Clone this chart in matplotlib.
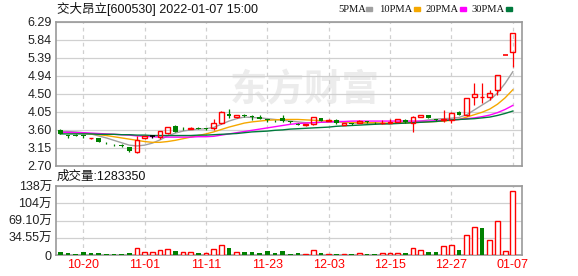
import numpy as np
import matplotlib.pyplot as plt
from matplotlib.patches import Rectangle

plt.rcParams['font.family'] = ['Liberation Sans', 'Noto Sans CJK SC', 'DejaVu Sans']

# trading days shown on the chart
dates = ['10-15', '10-18', '10-19', '10-20', '10-21', '10-22', '10-25', '10-26', '10-27', '10-28',
         '10-29', '11-01', '11-02', '11-03', '11-04', '11-05', '11-08', '11-09', '11-10', '11-11',
         '11-12', '11-15', '11-16', '11-17', '11-18', '11-19', '11-22', '11-23', '11-24', '11-25',
         '11-26', '11-29', '11-30', '12-01', '12-02', '12-03', '12-06', '12-07', '12-08', '12-09',
         '12-10', '12-13', '12-14', '12-15', '12-16', '12-17', '12-20', '12-21', '12-22', '12-23',
         '12-24', '12-27', '12-28', '12-29', '12-30', '12-31', '01-04', '01-05', '01-06', '01-07']

opens = [3.60, 3.47, 3.47, 3.47, 3.39, 3.39, 3.28, 3.23, 3.22, 3.17,
         3.04, 3.41, 3.44, 3.43, 3.52, 3.70, 3.65, 3.63, 3.65, 3.64,
         3.64, 3.77, 4.00, 3.93, 3.96, 3.94, 3.93, 3.86, 3.83, 3.90,
         3.81, 3.74, 3.71, 3.75, 3.89, 3.83, 3.85, 3.73, 3.76, 3.77,
         3.81, 3.78, 3.76, 3.78, 3.80, 3.84, 3.76, 3.93, 3.97, 3.86,
         3.84, 3.85, 4.05, 3.96, 4.42, 4.41, 4.42, 4.59, 5.47, 5.54]
highs = [3.62, 3.48, 3.50, 3.48, 3.41, 3.40, 3.29, 3.24, 3.24, 3.18,
         3.45, 3.46, 3.48, 3.58, 3.68, 3.71, 3.68, 3.67, 3.66, 3.65,
         3.88, 4.07, 4.12, 3.98, 4.00, 3.96, 3.96, 3.88, 3.85, 3.97,
         3.82, 3.76, 3.75, 3.93, 3.90, 3.88, 3.86, 3.78, 3.77, 3.84,
         3.82, 3.79, 3.85, 3.88, 3.88, 3.86, 3.94, 3.98, 3.98, 3.88,
         4.10, 4.04, 4.08, 4.40, 4.77, 4.77, 4.60, 4.97, 5.47, 6.01]
lows = [3.49, 3.40, 3.44, 3.40, 3.37, 3.29, 3.24, 3.20, 3.17, 3.06,
        3.02, 3.38, 3.41, 3.38, 3.50, 3.54, 3.60, 3.62, 3.61, 3.60,
        3.60, 3.75, 3.90, 3.90, 3.92, 3.85, 3.86, 3.80, 3.80, 3.80,
        3.78, 3.71, 3.70, 3.73, 3.82, 3.82, 3.75, 3.71, 3.73, 3.76,
        3.78, 3.75, 3.75, 3.77, 3.79, 3.78, 3.55, 3.91, 3.89, 3.82,
        3.80, 3.78, 3.96, 3.94, 4.22, 4.27, 4.35, 4.47, 5.47, 5.17]
closes = [3.50, 3.46, 3.45, 3.44, 3.40, 3.30, 3.27, 3.22, 3.19, 3.07,
          3.35, 3.44, 3.44, 3.57, 3.67, 3.56, 3.64, 3.65, 3.62, 3.62,
          3.77, 4.04, 3.95, 3.97, 3.94, 3.92, 3.87, 3.85, 3.82, 3.81,
          3.79, 3.72, 3.74, 3.92, 3.83, 3.85, 3.76, 3.77, 3.75, 3.81,
          3.79, 3.76, 3.78, 3.80, 3.86, 3.79, 3.92, 3.97, 3.90, 3.84,
          3.86, 4.02, 3.98, 4.39, 4.50, 4.43, 4.52, 4.97, 5.47, 6.01]

# volume in shares
volumes = [68000, 41000, 20000, 61000, 41000, 41000, 20000, 20000, 20000, 41000,
           135000, 68000, 54000, 95000, 115000, 81000, 54000, 54000, 41000, 41000,
           115000, 203000, 135000, 54000, 61000, 61000, 41000, 81000, 41000, 74000,
           20000, 41000, 20000, 95000, 41000, 20000, 20000, 20000, 20000, 41000,
           20000, 20000, 41000, 41000, 41000, 41000, 142000, 95000, 61000, 61000,
           176000, 196000, 102000, 400000, 560000, 550000, 300000, 690000, 74000, 1283350]

ma5 = [3.56, 3.56, 3.55, 3.53, 3.50, 3.45, 3.40, 3.34, 3.28, 3.22,
       3.20, 3.22, 3.27, 3.35, 3.45, 3.52, 3.57, 3.60, 3.62, 3.63,
       3.66, 3.74, 3.82, 3.88, 3.92, 3.91, 3.90, 3.88, 3.86, 3.84,
       3.82, 3.80, 3.78, 3.78, 3.79, 3.79, 3.80, 3.79, 3.77, 3.77,
       3.76, 3.76, 3.75, 3.76, 3.77, 3.78, 3.79, 3.82, 3.85, 3.87,
       3.88, 3.89, 3.91, 3.98, 4.10, 4.22, 4.34, 4.52, 4.76, 5.05]
ma10 = [3.53, 3.53, 3.52, 3.51, 3.50, 3.48, 3.46, 3.43, 3.40, 3.37,
        3.34, 3.31, 3.29, 3.29, 3.31, 3.34, 3.38, 3.42, 3.46, 3.50,
        3.55, 3.61, 3.67, 3.72, 3.77, 3.80, 3.82, 3.84, 3.85, 3.86,
        3.86, 3.86, 3.85, 3.84, 3.83, 3.82, 3.81, 3.80, 3.79, 3.78,
        3.78, 3.78, 3.77, 3.77, 3.77, 3.77, 3.78, 3.79, 3.80, 3.81,
        3.82, 3.84, 3.86, 3.92, 3.98, 4.04, 4.12, 4.24, 4.40, 4.60]
ma20 = [3.54, 3.54, 3.53, 3.53, 3.52, 3.51, 3.50, 3.49, 3.48, 3.47,
        3.45, 3.44, 3.43, 3.42, 3.42, 3.42, 3.42, 3.42, 3.43, 3.43,
        3.44, 3.47, 3.50, 3.53, 3.56, 3.59, 3.62, 3.65, 3.68, 3.71,
        3.74, 3.76, 3.77, 3.78, 3.79, 3.80, 3.81, 3.81, 3.82, 3.82,
        3.82, 3.82, 3.82, 3.82, 3.82, 3.82, 3.82, 3.82, 3.82, 3.83,
        3.84, 3.85, 3.86, 3.88, 3.90, 3.93, 3.97, 4.03, 4.11, 4.21]
ma30 = [3.50, 3.50, 3.50, 3.50, 3.50, 3.49, 3.49, 3.49, 3.48, 3.48,
        3.47, 3.47, 3.46, 3.46, 3.46, 3.46, 3.46, 3.46, 3.47, 3.47,
        3.48, 3.49, 3.50, 3.51, 3.53, 3.55, 3.56, 3.57, 3.59, 3.60,
        3.62, 3.63, 3.64, 3.65, 3.66, 3.67, 3.69, 3.70, 3.71, 3.72,
        3.73, 3.74, 3.75, 3.75, 3.76, 3.77, 3.78, 3.79, 3.80, 3.81,
        3.83, 3.85, 3.86, 3.87, 3.88, 3.90, 3.92, 3.96, 4.01, 4.07]

price_ticks = ['2.70', '3.15', '3.60', '4.05', '4.50', '4.94', '5.39', '5.84', '6.29']
vol_ticks = ['0', '34.55万', '69.10万', '104万', '138万']
label_days = ['10-20', '11-01', '11-11', '11-23', '12-03', '12-15', '12-27', '01-07']

RED = '#ff0000'
GREEN = '#008000'
FRAME = '#999999'
GRID = '#d0d0d0'

o = np.array(opens)
h = np.array(highs)
l = np.array(lows)
c = np.array(closes)
v = np.array(volumes) / 10000.0
x = np.arange(len(dates))
prev = np.r_[c[0] + 1, c[:-1]]

W, H = 578, 276
fig = plt.figure(figsize=(W / 100, H / 100), dpi=100)


def box(left, top, right, bottom):
    return [left / W, 1 - bottom / H, (right - left) / W, (bottom - top) / H]


ax = fig.add_axes(box(56, 22, 522, 166))
axv = fig.add_axes(box(56, 186, 522, 255))
tick_x = [dates.index(d) for d in label_days]

for a in (ax, axv):
    a.set_xlim(-0.55, 60.2)
    a.set_xticks(tick_x)
    a.grid(axis='x', color=GRID, ls=(0, (3, 3)), lw=0.9)
    a.grid(axis='y', color=GRID, ls='-', lw=0.9)
    a.set_axisbelow(True)
    for s in a.spines.values():
        s.set_color(FRAME)
        s.set_linewidth(1.2)
    a.tick_params(length=0, labelsize=9, pad=3, colors='#222222')

# watermark
ax.text(0.535, 0.53, '东方财富', transform=ax.transAxes, ha='center', va='center',
        fontsize=27, fontweight='bold', color='#ececec', family=['Noto Sans CJK SC'], zorder=0)

# moving averages
ax.plot(x, ma5, color='#a0a0a0', lw=1, zorder=2)
ax.plot(x, ma10, color='#f5a800', lw=1, zorder=2)
ax.plot(x, ma20, color='#ff00ff', lw=1, zorder=2)
ax.plot(x, ma30, color='#007a3d', lw=1, zorder=2)

# candles
bw = 0.62
up = c > o
dn = c < o
flat = c == o
ax.vlines(x[up], l[up], o[up], color=RED, lw=0.9, zorder=3)
ax.vlines(x[up], c[up], h[up], color=RED, lw=0.9, zorder=3)
ax.bar(x[up], (c - o)[up], bottom=o[up], width=bw, facecolor='none',
       edgecolor=RED, linewidth=1, zorder=4)
ax.vlines(x[dn], l[dn], h[dn], color=GREEN, lw=0.9, zorder=3)
ax.bar(x[dn], (o - c)[dn], bottom=c[dn], width=bw, color=GREEN, zorder=4)
flat_col = np.where(c > prev, RED, np.where(c < prev, GREEN, 'black'))
ax.vlines(x[flat], l[flat], h[flat], color=flat_col[flat], lw=0.9, zorder=3)
ax.hlines(c[flat], x[flat] - bw / 2, x[flat] + bw / 2, color=flat_col[flat], lw=1.2, zorder=4)

ax.set_ylim(2.70, 6.29)
ax.set_yticks(np.linspace(2.70, 6.29, 9))
ax.set_yticklabels(price_ticks)
ax.tick_params(labelbottom=False)

# volume
vup = c >= prev
axv.bar(x[vup], v[vup], width=bw, facecolor='white', edgecolor=RED, linewidth=1, zorder=3)
axv.bar(x[~vup], v[~vup], width=bw, color=GREEN, zorder=3)
axv.set_ylim(0, 138.2)
axv.set_yticks([0, 34.55, 69.10, 103.65, 138.2])
axv.set_yticklabels(vol_ticks)
axv.set_xticklabels(label_days, color=RED)

# header texts
fig.text(57 / W, 1 - 9 / H, '交大昂立[600530] 2022-01-07 15:00', fontsize=9,
         ha='left', va='center', color='#111111')
fig.text(57 / W, 1 - 177 / H, '成交量:%d' % volumes[-1], fontsize=9,
         ha='left', va='center', color='#111111')

legend = [('5PMA', 338, 366, '#a0a0a0'), ('10PMA', 379, 414, '#f5a800'),
          ('20PMA', 425, 460, '#ff00ff'), ('30PMA', 471, 506, '#007a3d')]
for name, tx, mx, col in legend:
    fig.text(tx / W, 1 - 9 / H, name, fontsize=7.6, family=['Liberation Serif'],
             ha='left', va='center', color='#111111')
    fig.patches.append(Rectangle((mx / W, 1 - 10.5 / H), 6 / W, 3 / H,
                                 transform=fig.transFigure, color=col))

fig.savefig('out.png', dpi=100)
